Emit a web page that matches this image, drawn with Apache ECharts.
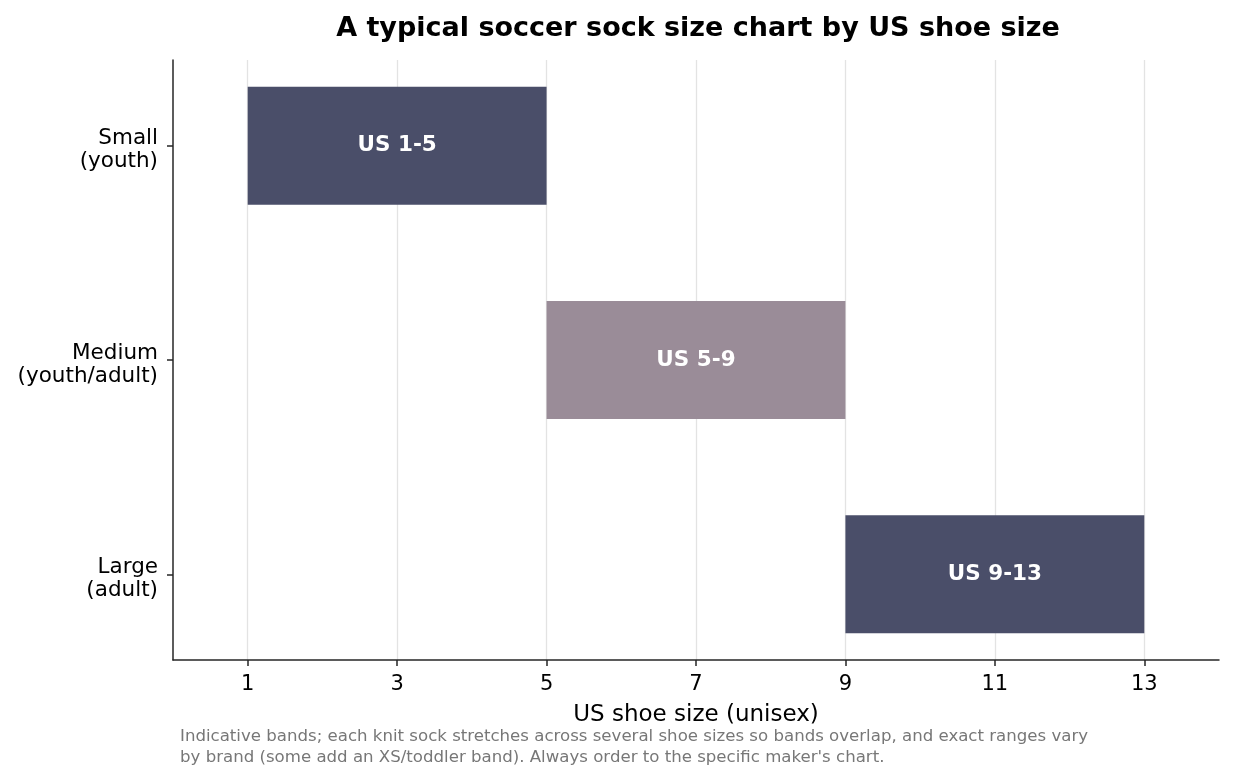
<!DOCTYPE html>
<html lang="en">
<head>
    <meta charset="UTF-8">
    <title>Soccer sock size chart</title>
    <script src="https://cdn.jsdelivr.net/npm/echarts@6/dist/echarts.min.js"></script>
    <style>
        html, body { margin: 0; padding: 0; background: #fff; }
        #main { width: 1234px; height: 781px; }
    </style>
</head>
<body>
<div id="main"></div>
<script type="text/javascript">
    // sock sizes and the US shoe size band each one covers
    var sizeNames = ['Small', 'Medium', 'Large'];
    var sizeGroups = ['(youth)', '(youth/adult)', '(adult)'];
    var sizeFrom = [1, 5, 9];
    var sizeTo = [5, 9, 13];
    var bandLabels = ['US 1-5', 'US 5-9', 'US 9-13'];
    var xTicks = [1, 3, 5, 7, 9, 11, 13];

    var barColors = ['#4a4e69', '#9a8c98', '#4a4e69'];
    var barHeight = 0.55;
    var font = 'DejaVu Sans';

    var data = sizeNames.map(function (c, i) {
        return [i, sizeFrom[i], sizeTo[i]];
    });

    function renderItem(params, api) {
        var y = api.value(0);
        var p0 = api.coord([api.value(1), y]);
        var p1 = api.coord([api.value(2), y]);
        var h = api.size([0, barHeight])[1];
        return {
            type: 'rect',
            shape: { x: p0[0], y: p0[1] - h / 2, width: p1[0] - p0[0], height: h },
            style: { fill: barColors[params.dataIndex] },
            textContent: {
                style: {
                    text: bandLabels[params.dataIndex],
                    fill: '#fff',
                    fontFamily: font,
                    fontWeight: 'bold',
                    fontSize: 21.5
                }
            },
            textConfig: { position: 'inside' }
        };
    }

    var myChart = echarts.init(document.getElementById('main'));
    var option = {
        backgroundColor: '#fff',
        animation: false,
        title: {
            text: 'A typical soccer sock size chart by US shoe size',
            left: 693,
            top: 10,
            textAlign: 'center',
            textStyle: { fontFamily: font, fontWeight: 'bold', fontSize: 27, color: '#000' }
        },
        grid: { left: 173, right: 15, top: 60, bottom: 121, containLabel: false },
        xAxis: {
            type: 'value',
            min: 0,
            max: 14,
            name: 'US shoe size (unisex)',
            nameLocation: 'middle',
            nameGap: 44,
            nameTextStyle: { fontFamily: font, fontSize: 23, color: '#000' },
            axisLine: { show: true, onZero: false, lineStyle: { color: '#262626', width: 1.5 } },
            axisTick: { show: true, length: 6, customValues: xTicks, lineStyle: { color: '#262626', width: 1.5 } },
            axisLabel: { customValues: xTicks, fontFamily: font, fontSize: 21, color: '#000', margin: 14 },
            splitLine: { show: true, lineStyle: { color: '#e3e3e3', width: 1.3 } }
        },
        yAxis: {
            type: 'value',
            min: -0.4,
            max: 2.4,
            inverse: true,
            axisLine: { show: true, onZero: false, lineStyle: { color: '#262626', width: 1.5 } },
            axisTick: { show: true, length: 6, customValues: [0, 1, 2], lineStyle: { color: '#262626', width: 1.5 } },
            axisLabel: {
                customValues: [0, 1, 2],
                formatter: function (v) {
                    var i = Math.round(v);
                    return '{a|' + sizeNames[i] + '}\n{b|' + sizeGroups[i] + '}';
                },
                fontFamily: font,
                fontSize: 21.5,
                color: '#000',
                align: 'right',
                margin: 15,
                rich: {
                    a: { fontFamily: font, fontSize: 21.5, color: '#000', lineHeight: 32, align: 'right' },
                    b: { fontFamily: font, fontSize: 21.5, color: '#000', lineHeight: 14, align: 'right' }
                }
            },
            splitLine: { show: false }
        },
        series: [{
            type: 'custom',
            renderItem: renderItem,
            encode: { x: [1, 2], y: 0 },
            data: data
        }],
        graphic: [{
            type: 'text',
            left: 180,
            top: 726,
            style: {
                text: 'Indicative bands; each knit sock stretches across several shoe sizes so bands overlap, and exact ranges vary\nby brand (some add an XS/toddler band). Always order to the specific maker\'s chart.',
                fontFamily: font,
                fontSize: 16.6,
                lineHeight: 21,
                fill: '#777'
            }
        }]
    };
    myChart.setOption(option);
</script>
</body>
</html>
